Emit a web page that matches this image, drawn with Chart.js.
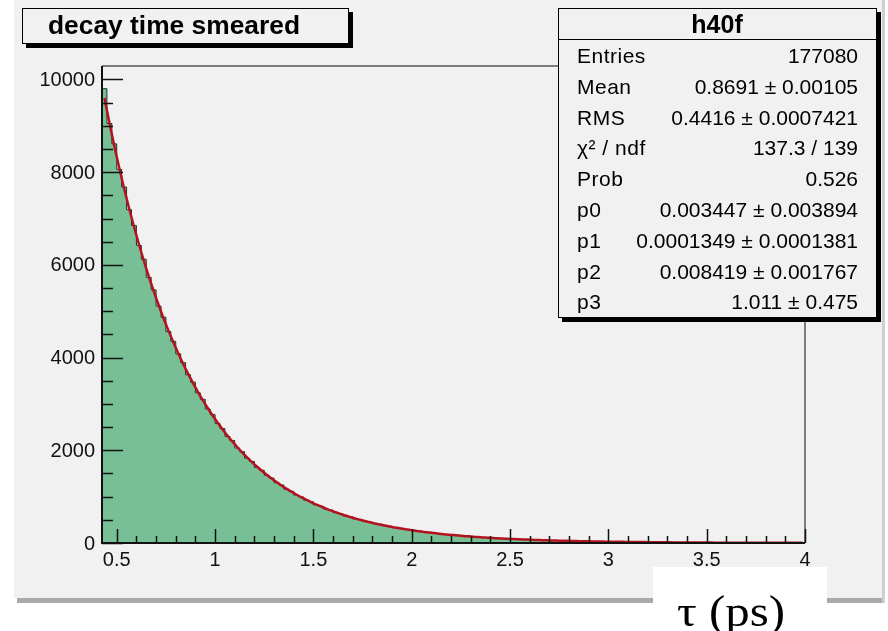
<!DOCTYPE html>
<html><head><meta charset="utf-8">
<script src="https://cdn.jsdelivr.net/npm/chart.js@4.4.0/dist/chart.umd.min.js"></script>
<style>html,body{margin:0;padding:0;background:#fff;}canvas{display:block;}</style>
</head><body>
<canvas id="c" width="888" height="631"></canvas>
<script>
// ---------- data ----------
const histTitle = "decay time smeared";
const histName = "h40f";
const xMin = 0.425, xMax = 4.0, binWidth = 0.025;
const yMax = 10290;
const counts = [
  9800, 9050, 8610, 8060, 7680, 7190, 6850, 6420, 6120, 5730,
  5460, 5110, 4870, 4560, 4350, 4080, 3890, 3630, 3470, 3240,
  3100, 2890, 2770, 2580, 2470, 2300, 2210, 2050, 1970, 1830,
  1760, 1630, 1570, 1460, 1400, 1300, 1250, 1160, 1115, 1035,
  995, 925, 890, 825, 795, 735, 710, 655, 635, 585,
  566, 522, 505, 466, 452, 416, 403, 371, 360, 331,
  322, 296, 288, 263, 257, 235, 230, 210, 205, 188,
  183, 168, 163, 150, 146, 134, 130, 119, 117, 106,
  104, 95, 93, 85, 83, 76, 74, 68, 66, 60,
  59, 54, 53, 48, 47, 43, 42, 38, 38, 34,
  34, 30, 30, 27, 27, 24, 25, 21, 22, 19,
  20, 17, 18, 15, 16, 13, 15, 12, 12, 11,
  11, 9, 10, 8, 9, 7, 8, 6, 7, 6,
  6, 5, 6, 4, 5, 4, 4, 3, 4, 3,
  3, 3, 2
];
const fitValues = [
  9600, 9070, 8569, 8096, 7649, 7226, 6827, 6450, 6094, 5757,
  5439, 5139, 4855, 4587, 4334, 4094, 3868, 3654, 3453, 3262,
  3082, 2912, 2751, 2599, 2455, 2320, 2192, 2071, 1956, 1848,
  1746, 1650, 1559, 1472, 1391, 1314, 1242, 1173, 1108, 1047,
  989, 935, 883, 834, 788, 745, 703, 665, 628, 593,
  561, 530, 500, 473, 447, 422, 399, 377, 356, 336,
  318, 300, 284, 268, 253, 239, 226, 214, 202, 191,
  180, 170, 161, 152, 144, 136, 128, 121, 115, 108,
  102, 97, 91, 86, 82, 77, 73, 69, 65, 61,
  58, 55, 52, 49, 46, 44, 41, 39, 37, 35,
  33, 31, 29, 28, 26, 25, 24, 22, 21, 20,
  19, 18, 17, 16, 15, 14, 13, 12.5, 12, 11,
  10.5, 10, 9, 8.5, 8, 7.6, 7.2, 6.8, 6.4, 6,
  5.7, 5.4, 5.1, 4.8, 4.5, 4.3, 4, 3.8, 3.6, 3.4,
  3.2, 3, 2.9
];
const xMajorTicks = [0.5, 1, 1.5, 2, 2.5, 3, 3.5, 4];
const xTickLabels = ["0.5", "1", "1.5", "2", "2.5", "3", "3.5", "4"];
const yMajorTicks = [0, 2000, 4000, 6000, 8000, 10000];
const yTickLabels = ["0", "2000", "4000", "6000", "8000", "10000"];
const xMinorStep = 0.1, yMinorStep = 500;
const statLabels = ["Entries", "Mean", "RMS", "\u03C7\u00B2 / ndf", "Prob", "p0", "p1", "p2", "p3"];
const statValues = ["177080", "0.8691 \u00B1 0.00105", "0.4416 \u00B1 0.0007421", "137.3 / 139", "0.526",
  "0.003447 \u00B1 0.003894", "0.0001349 \u00B1 0.0001381", "0.008419 \u00B1 0.001767", "1.011 \u00B1 0.475"];
const axisTitle = "\u03C4 (ps)";

// ---------- build datasets ----------
const histPts = counts.map((v, i) => ({x: xMin + i * binWidth, y: v}));
histPts.push({x: xMax, y: counts[counts.length - 1]});
const fitPts = fitValues.map((v, i) => ({x: xMin + (i + 0.5) * binWidth, y: v}));

const SANS = '"Liberation Sans", Arial, Helvetica, sans-serif';
const PAD = '#f1f1f1';

function fitText(ctx, txt, x, y, w) {
  const m = ctx.measureText(txt).width;
  ctx.save();
  ctx.translate(x, y);
  ctx.scale(w / m, 1);
  ctx.fillText(txt, 0, 0);
  ctx.restore();
}

const rootPlugin = {
  id: 'rootStyle',
  beforeDraw(chart) {
    const ctx = chart.ctx;
    ctx.save();
    ctx.fillStyle = '#ffffff';
    ctx.fillRect(0, 0, chart.width, chart.height);
    ctx.fillStyle = '#a9a9a9';
    ctx.fillRect(17, 598, 867, 5);
    ctx.fillStyle = '#cfcfcf';
    ctx.fillRect(882, 0, 3, 603);
    ctx.fillStyle = PAD;
    ctx.fillRect(14, 0, 868, 598);
    ctx.restore();
  },
  afterDatasetsDraw(chart) {
    const ctx = chart.ctx;
    const xs = chart.scales.x, ys = chart.scales.y;
    const a = chart.chartArea;
    ctx.save();
    ctx.strokeStyle = '#555';
    ctx.lineWidth = 1.5;
    ctx.beginPath();
    ctx.moveTo(a.left, a.top); ctx.lineTo(a.right, a.top); ctx.lineTo(a.right, a.bottom);
    ctx.stroke();
    ctx.strokeStyle = '#111';
    ctx.lineWidth = 2;
    ctx.beginPath();
    ctx.moveTo(a.left, a.top); ctx.lineTo(a.left, a.bottom); ctx.lineTo(a.right, a.bottom);
    ctx.stroke();
    ctx.lineWidth = 1.5;
    ctx.beginPath();
    for (let v = xMajorTicks[0]; v <= xMax + 1e-9; v += xMinorStep) {
      const px = Math.round(xs.getPixelForValue(v)) + 0.5;
      const major = xMajorTicks.some(t => Math.abs(t - v) < 1e-6);
      ctx.moveTo(px, a.bottom); ctx.lineTo(px, a.bottom - (major ? 14 : 7));
    }
    for (let v = 0; v <= yMax; v += yMinorStep) {
      const py = Math.round(ys.getPixelForValue(v)) + 0.5;
      const major = yMajorTicks.includes(v);
      ctx.moveTo(a.left, py); ctx.lineTo(a.left + (major ? 21 : 11), py);
    }
    ctx.stroke();
    ctx.fillStyle = '#111';
    ctx.font = '20px ' + SANS;
    ctx.textAlign = 'center';
    ctx.textBaseline = 'alphabetic';
    xMajorTicks.forEach((v, i) => ctx.fillText(xTickLabels[i], xs.getPixelForValue(v), 566));
    ctx.textAlign = 'right';
    ctx.textBaseline = 'middle';
    yMajorTicks.forEach((v, i) => ctx.fillText(yTickLabels[i], 95, ys.getPixelForValue(v) + 1));
    ctx.textBaseline = 'alphabetic';

    // title box
    ctx.fillStyle = '#000';
    ctx.fillRect(26, 12, 327, 36);
    ctx.fillStyle = PAD;
    ctx.fillRect(22, 8, 327, 36);
    ctx.strokeStyle = '#000'; ctx.lineWidth = 1;
    ctx.strokeRect(22.5, 8.5, 326, 35);
    ctx.fillStyle = '#000';
    ctx.font = 'bold 25px ' + SANS;
    ctx.textAlign = 'left';
    fitText(ctx, histTitle, 48, 34, 252);

    // stats box
    const bx = 558, by = 8, bw = 319, bh = 310;
    ctx.fillStyle = '#000';
    ctx.fillRect(bx + 4, by + 4, bw, bh);
    ctx.fillStyle = PAD;
    ctx.fillRect(bx, by, bw, bh);
    ctx.strokeStyle = '#000'; ctx.lineWidth = 1;
    ctx.strokeRect(bx + 0.5, by + 0.5, bw - 1, bh - 1);
    ctx.beginPath(); ctx.moveTo(bx, 39.5); ctx.lineTo(bx + bw, 39.5); ctx.stroke();
    ctx.fillStyle = '#000';
    ctx.font = 'bold 25px ' + SANS;
    ctx.textAlign = 'center';
    ctx.fillText(histName, 717, 33);
    ctx.font = '21px ' + SANS;
    for (let i = 0; i < statLabels.length; i++) {
      const y = 63 + i * 30.8;
      ctx.textAlign = 'left';
      ctx.letterSpacing = '0.5px';
      ctx.fillText(statLabels[i], 577, y);
      ctx.letterSpacing = '0px';
      ctx.textAlign = 'right';
      ctx.fillText(statValues[i], 858, y);
    }

    // axis title box
    ctx.fillStyle = '#ffffff';
    ctx.fillRect(653, 567, 174, 64);
    ctx.fillStyle = '#000';
    ctx.font = '44px "Liberation Serif", "Times New Roman", serif';
    ctx.textAlign = 'left';
    fitText(ctx, axisTitle, 677, 626, 108);
    ctx.restore();
  }
};

new Chart(document.getElementById('c').getContext('2d'), {
  type: 'line',
  data: {
    datasets: [
      {data: fitPts, borderColor: '#b5121f', borderWidth: 2.5, pointRadius: 0, fill: false, tension: 0.3, order: 0},
      {data: histPts, stepped: 'before', borderColor: '#1e3327', borderWidth: 1, backgroundColor: '#78bf96',
       fill: 'origin', pointRadius: 0, order: 1}
    ]
  },
  options: {
    responsive: false, animation: false, devicePixelRatio: 1,
    layout: {padding: {left: 102, right: 83, top: 66, bottom: 88}},
    scales: {
      x: {type: 'linear', min: xMin, max: xMax, display: false},
      y: {type: 'linear', min: 0, max: yMax, display: false}
    },
    plugins: {legend: {display: false}, tooltip: {enabled: false}}
  },
  plugins: [rootPlugin]
});
</script>
</body></html>
